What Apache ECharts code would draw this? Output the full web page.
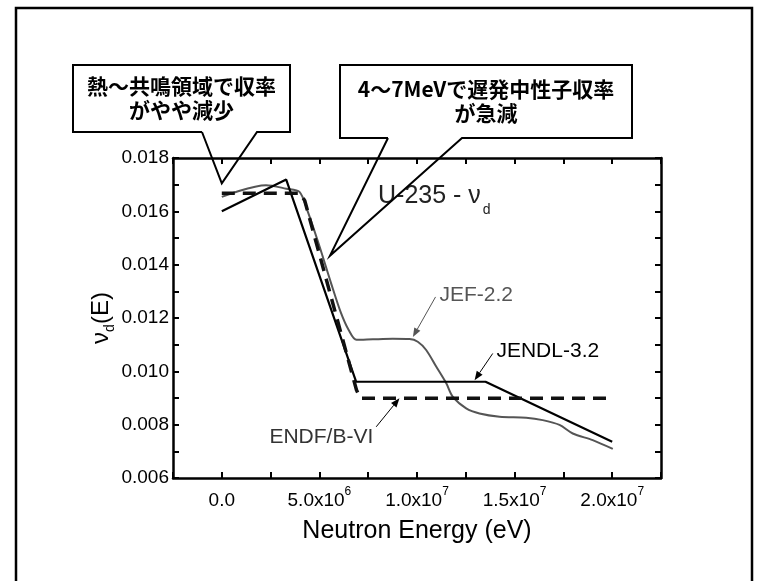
<!DOCTYPE html>
<html>
<head>
<meta charset="utf-8">
<script src="https://cdn.jsdelivr.net/npm/echarts@6/dist/echarts.min.js"></script>
<style>
html,body{margin:0;padding:0;background:#fff;}
#c{width:771px;height:581px;}
</style>
</head>
<body>
<div id="c"></div>
<script>
// ---- data ----
const xTickValues = [0, 5e6, 1e7, 1.5e7, 2e7];
const xTickLabels = ['0.0', '5.0x10^6', '1.0x10^7', '1.5x10^7', '2.0x10^7'];
const yTickValues = [0.006, 0.008, 0.010, 0.012, 0.014, 0.016, 0.018];
const yTickLabels = ['0.006', '0.008', '0.010', '0.012', '0.014', '0.016', '0.018'];

const jendlX = [0, 3.3e6, 6.88e6, 1.351e7, 2.0e7];
const jendlY = [0.0160, 0.01719, 0.00961, 0.00961, 0.00736];

const endfX = [0, 4.0e6, 4.25e6, 6.9e6, 7.1e6, 2.0e7];
const endfY = [0.01668, 0.01668, 0.0164, 0.0093, 0.00899, 0.00899];

const jefX = [0, 2.27e6, 3.3e6, 3.98e6, 4.4e6, 5.0e6, 5.6e6, 6.1e6, 6.5e6, 6.9e6, 7.74e6, 8.76e6, 9.62e6, 1.004e7, 1.047e7, 1.099e7, 1.15e7, 1.183e7, 1.252e7, 1.32e7, 1.423e7, 1.559e7, 1.644e7, 1.73e7, 1.798e7, 1.9e7, 2.003e7];
const jefY = [0.01654, 0.01698, 0.01685, 0.01673, 0.0160, 0.0147, 0.0133, 0.0122, 0.01155, 0.01118, 0.01120, 0.01122, 0.01121, 0.01111, 0.01080, 0.01017, 0.00955, 0.00905, 0.00861, 0.00842, 0.00830, 0.00826, 0.00817, 0.00799, 0.00767, 0.00742, 0.00709];

const seriesNames = ['JENDL-3.2', 'JEF-2.2', 'ENDF/B-VI'];
const callout1 = ['熱～共鳴領域で収率', 'がやや減少'];
const callout2 = ['4～7MeVで遅発中性子収率', 'が急減'];
const plotTitle = 'U-235 - ν';
const plotTitleSub = 'd';
const xAxisTitle = 'Neutron Energy (eV)';

// ---- chart ----
const zip = (xs, ys) => xs.map((x, i) => [x, ys[i]]);
const FONT = '"Liberation Sans", Arial, sans-serif';
const CJK = '"Noto Sans CJK JP", sans-serif';

function xLabel(v) {
  const i = xTickValues.findIndex(t => Math.abs(t - v) < 1);
  if (i < 0) return '';
  const parts = xTickLabels[i].split('^');
  return parts.length > 1 ? '{m|' + parts[0] + '}{e|' + parts[1] + '}' : '{m|' + parts[0] + '}';
}
function yLabel(v) {
  const i = yTickValues.findIndex(t => Math.abs(t - v) < 1e-7);
  return i < 0 ? '' : yTickLabels[i];
}

const axisCommon = {
  type: 'value',
  splitLine: { show: false },
  axisLine: { show: true, onZero: false, lineStyle: { color: '#000', width: 2.5 } },
  axisTick: { show: true, inside: true, length: 6, lineStyle: { color: '#000', width: 2 } }
};

const chart = echarts.init(document.getElementById('c'));
chart.setOption({
  animation: false,
  backgroundColor: '#fff',
  grid: { left: 173, top: 158, right: 110, bottom: 103 },
  xAxis: [
    Object.assign({}, axisCommon, {
      position: 'bottom', min: -2.5e6, max: 2.25e7, interval: 2.5e6,
      axisLabel: {
        margin: 8, formatter: xLabel, color: '#000', fontFamily: FONT, fontSize: 19,
        rich: {
          m: { fontSize: 19, fontFamily: FONT, color: '#000', lineHeight: 24, verticalAlign: 'bottom' },
          e: { fontSize: 12, fontFamily: FONT, color: '#000', lineHeight: 24, verticalAlign: 'top' }
        }
      },
      name: xAxisTitle, nameLocation: 'middle', nameGap: 41, nameMoveOverlap: false,
      nameTextStyle: { fontFamily: FONT, fontSize: 25, color: '#000' }
    }),
    Object.assign({}, axisCommon, {
      position: 'top', min: -2.5e6, max: 2.25e7, interval: 2.5e6,
      axisLabel: { show: false }
    })
  ],
  yAxis: [
    Object.assign({}, axisCommon, {
      position: 'left', min: 0.006, max: 0.018, interval: 0.001,
      axisLabel: { margin: 4, formatter: yLabel, color: '#000', fontFamily: FONT, fontSize: 19 },
      name: '{a|ν}{s|d}{a|(E)}', nameLocation: 'middle', nameRotate: 90, nameGap: 60, nameMoveOverlap: false,
      nameTextStyle: {
        rich: {
          a: { fontFamily: FONT, fontSize: 24, color: '#000', lineHeight: 28, verticalAlign: 'bottom' },
          s: { fontFamily: FONT, fontSize: 14, color: '#000', lineHeight: 28, verticalAlign: 'bottom', padding: [0, 0, -4, 0] }
        }
      }
    }),
    Object.assign({}, axisCommon, {
      position: 'right', min: 0.006, max: 0.018, interval: 0.001,
      axisLabel: { show: false }
    })
  ],
  series: [
    {
      name: seriesNames[0], type: 'line', data: zip(jendlX, jendlY), showSymbol: false, symbol: 'none',
      lineStyle: { color: '#000', width: 2.2 }, z: 3
    },
    {
      name: seriesNames[1], type: 'line', data: zip(jefX, jefY), showSymbol: false, symbol: 'none', smooth: 0.3,
      lineStyle: { color: '#555', width: 2 }, z: 2
    },
    {
      name: seriesNames[2], type: 'line', data: zip(endfX, endfY), showSymbol: false, symbol: 'none',
      lineStyle: { color: '#111', width: 3.5, type: [13, 8] }, z: 4
    }
  ]
});

// ---- annotations (anchored in data space) ----
function px(x, y) { return chart.convertToPixel({ xAxisIndex: 0, yAxisIndex: 0 }, [x, y]); }
function arrow(a, b, color, w) {
  const dx = b[0] - a[0], dy = b[1] - a[1], L = Math.hypot(dx, dy);
  const ux = dx / L, uy = dy / L, hl = 9, hw = 3.5;
  const base = [b[0] - ux * hl, b[1] - uy * hl];
  return [
    { type: 'line', shape: { x1: a[0], y1: a[1], x2: base[0], y2: base[1] }, style: { stroke: color, lineWidth: w }, z: 10 },
    { type: 'polygon', shape: { points: [b, [base[0] - uy * hw, base[1] + ux * hw], [base[0] + uy * hw, base[1] - ux * hw]] }, style: { fill: color }, z: 10 }
  ];
}
function label(text, p, color, align) {
  return { type: 'text', x: p[0], y: p[1], style: { text: text, fill: color, font: '21px ' + FONT, textAlign: align || 'left', textVerticalAlign: 'middle' }, z: 10 };
}

const g = [];
// outer frame
g.push({ type: 'rect', shape: { x: 16, y: 8, width: 736, height: 620 }, style: { fill: 'none', stroke: '#000', lineWidth: 2.5 }, z: 1 });

// series labels with arrows
g.push(label(seriesNames[1], px(1.115e7, 0.01286), '#555'));
g.push(...arrow(px(1.095e7, 0.01279), px(9.79e6, 0.01129), '#555', 1));
g.push(label(seriesNames[0], px(1.407e7, 0.01076), '#000'));
g.push(...arrow(px(1.388e7, 0.01067), px(1.295e7, 0.00967), '#000', 1));
g.push(label(seriesNames[2], px(2.44e6, 0.00753), '#333'));
g.push(...arrow(px(7.91e6, 0.00792), px(9.10e6, 0.00899), '#000', 1));

// plot title
g.push({
  type: 'text', x: 378, y: 209,
  style: {
    text: '{a|' + plotTitle + '}{s|' + plotTitleSub + '}',
    textVerticalAlign: 'bottom',
    rich: {
      a: { font: '25px ' + FONT, fill: '#222', lineHeight: 30, verticalAlign: 'bottom' },
      s: { font: '14px ' + FONT, fill: '#222', lineHeight: 30, verticalAlign: 'bottom', padding: [0, 0, -8, 2] }
    }
  }, z: 10
});

// callouts
function callout(box, gapL, gapR, tip, lines) {
  const [l, t, r, b] = box;
  g.push({
    type: 'polyline',
    shape: { points: [[gapL, b], [l, b], [l, t], [r, t], [r, b], [gapR, b], tip, [gapL, b]] },
    style: { stroke: '#000', lineWidth: 2, fill: null, lineJoin: 'miter' }, z: 12
  });
  g.push({
    type: 'text', x: (l + r) / 2, y: (t + b) / 2,
    style: {
      text: lines.join('\n'), font: 'bold 21px ' + CJK, fill: '#000',
      textAlign: 'center', textVerticalAlign: 'middle', lineHeight: 24
    }, z: 12
  });
}
callout([73, 65, 290, 132], 202, 257, px(0, 0.01705), callout1);
callout([340, 65, 632, 138], 388, 462, px(5.54e6, 0.01433), callout2);

chart.setOption({ graphic: { elements: g } });
</script>
</body>
</html>
